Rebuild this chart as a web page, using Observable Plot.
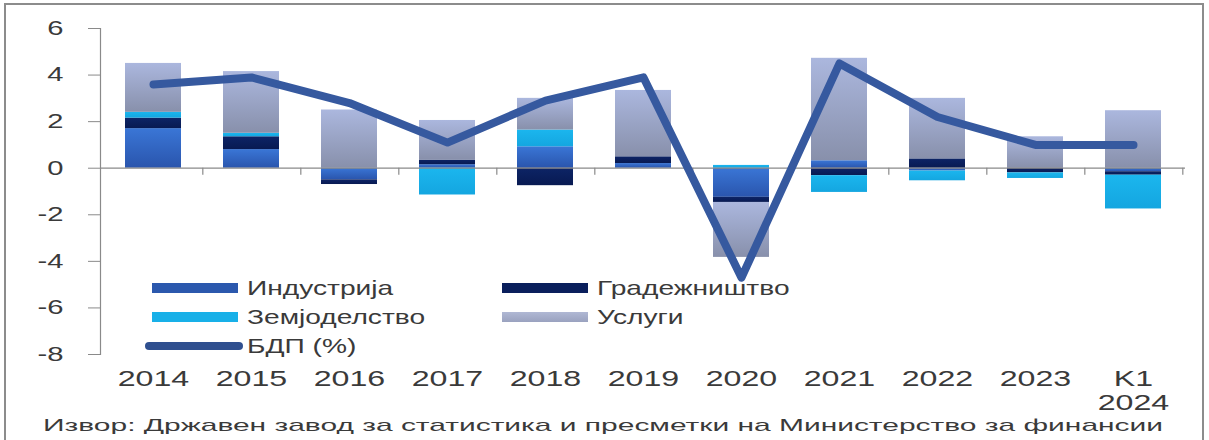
<!DOCTYPE html>
<html><head><meta charset="utf-8">
<script src="https://cdn.jsdelivr.net/npm/d3@7"></script>
<script src="https://cdn.jsdelivr.net/npm/@observablehq/plot@0.6"></script>
<style>
body{margin:0;background:#fff;font-family:"Liberation Sans",Arial,sans-serif;}
#wrap{position:relative;width:1209px;height:440px;overflow:hidden;background:#fff;}
#border{position:absolute;left:4px;top:3px;width:1200px;height:470px;border:2px solid #8c8c8c;box-sizing:border-box;pointer-events:none;}
#chart{position:absolute;left:0;top:0;}
.lg{position:absolute;height:30px;display:flex;align-items:center;white-space:nowrap;}
.sw{width:86px;height:10px;margin-right:9px;flex:none;}
.ln{width:98px;height:8px;border-radius:4px;margin-right:4px;flex:none;}
.lt{display:inline-block;font-size:21px;color:#3a3a3a;transform-origin:left center;}
#cap{position:absolute;left:43px;top:417px;font-size:17px;line-height:17px;color:#3a3a3a;white-space:nowrap;transform-origin:left center;}
</style></head>
<body>
<svg width="0" height="0" style="position:absolute">
  <defs>
    <linearGradient id="gInd" x1="0" y1="0" x2="0" y2="1">
      <stop offset="0" stop-color="#3a76d6"/><stop offset="1" stop-color="#2a55ad"/>
    </linearGradient>
    <linearGradient id="gCon" x1="0" y1="0" x2="0" y2="1">
      <stop offset="0" stop-color="#0d2466"/><stop offset="1" stop-color="#081a52"/>
    </linearGradient>
    <linearGradient id="gAgr" x1="0" y1="0" x2="0" y2="1">
      <stop offset="0" stop-color="#1bb6ee"/><stop offset="1" stop-color="#14a6e0"/>
    </linearGradient>
    <linearGradient id="gSrv" x1="0" y1="0" x2="0" y2="1">
      <stop offset="0" stop-color="#abb7de"/><stop offset="1" stop-color="#8890ab"/>
    </linearGradient>
  </defs>
</svg>
<div id="wrap"><div id="chart"></div><div id="border"></div></div>
<script>
const categories = ["2014","2015","2016","2017","2018","2019","2020","2021","2022","2023","K1 2024"];
const sectors = ["Индустрија","Градежништво","Земјоделство","Услуги"];
const industry     = [1.70, 0.80, -0.50, 0.15, 0.92, 0.20, -1.25, 0.32, -0.12, 0.00, -0.15];
const construction = [0.45, 0.55, -0.20, 0.20, -0.75, 0.29, -0.22, -0.32, 0.40, -0.20, -0.15];
const agriculture  = [0.25, 0.15, 0.00, -1.15, 0.72, 0.00, 0.12, -0.72, -0.42, -0.24, -1.45];
const services     = [2.10, 2.65, 2.50, 1.70, 1.36, 2.85, -2.36, 4.40, 2.60, 1.35, 2.47];
const gdp          = [3.6, 3.9, 2.8, 1.1, 2.9, 3.9, -4.7, 4.5, 2.2, 1.0, 1.0];
const gdpLabel = "БДП (%)";
const yTicks = [-8, -6, -4, -2, 0, 2, 4, 6];
const source = "Извор: Државен завод за статистика и пресметки на Министерство за финансии";

const seriesValues = [industry, construction, agriculture, services];
const rows = categories.flatMap((c, i) => sectors.map((s, k) => ({cat: c, sector: s, value: seriesValues[k][i]})));
const gdpRows = categories.map((c, i) => ({cat: c, value: gdp[i]}));

const W = 1209, H = 410, ML = 100, MR = 24;
const step = (W - ML - MR) / categories.length;
const axisGray = "#8a8a8a";
const fills = ["url(#gInd)","url(#gCon)","url(#gAgr)","url(#gSrv)"];
const gdpColor = "#36599f";

const plot = Plot.plot({
  width: W, height: H, marginLeft: ML, marginRight: MR, marginTop: 28, marginBottom: 56,
  style: {fontFamily: "Liberation Sans, Arial, sans-serif", background: "transparent", color: "#3a3a3a", overflow: "visible"},
  x: {domain: categories, paddingInner: 0.43, paddingOuter: 0.215, label: null},
  y: {domain: [-8, 6], label: null},
  color: {domain: sectors, range: fills},
  marks: [
    Plot.barY(rows, Plot.stackY({x: "cat", y: "value", fill: "sector"})),
    Plot.ruleY([0], {stroke: axisGray, strokeWidth: 1.2}),
    Plot.ruleX(categories, {x: d => d, y1: 0, y2: -0.3, dx: step / 2, stroke: axisGray, strokeWidth: 1.2}),
    Plot.frame({anchor: "left", stroke: axisGray, strokeWidth: 1.2}),
    Plot.axisY({ticks: yTicks, tickSize: 12, tickPadding: 25, fontSize: 20, stroke: axisGray, tickFormat: d => String(d)}),
    Plot.axisX({tickSize: 0, tickPadding: 14, fontSize: 22, lineHeight: 1.11, tickFormat: d => d.replace(" ", "\n")}),
    Plot.lineY(gdpRows, {x: "cat", y: "value", stroke: gdpColor, strokeWidth: 8, strokeLinejoin: "round", strokeLinecap: "round"})
  ]
});
document.getElementById("chart").appendChild(plot);

// horizontal stretch of text, as in the reference picture (positions untouched)
const S = 1.46;
plot.querySelectorAll("text").forEach(t => {
  const tsp = t.querySelectorAll("tspan");
  const targets = tsp.length ? Array.from(tsp) : [t];
  targets.forEach(e => {
    const L = e.getComputedTextLength();
    if (L > 0) {
      e.setAttribute("textLength", (L * S).toFixed(1));
      e.setAttribute("lengthAdjust", "spacingAndGlyphs");
    }
  });
});

// legend
const wrap = document.getElementById("wrap");
const legendItems = [
  {label: sectors[0], fill: "#2b58ad", left: 152, top: 273, type: "sw"},
  {label: sectors[1], fill: "#0a1f5c", left: 502, top: 273, type: "sw"},
  {label: sectors[2], fill: "#18b0e8", left: 152, top: 302, type: "sw"},
  {label: sectors[3], fill: "linear-gradient(#b0b8d4,#9aa2bf)", left: 502, top: 302, type: "sw"},
  {label: gdpLabel, fill: "#2f4f8f", left: 145, top: 331, type: "ln"}
];
legendItems.forEach(it => {
  const d = document.createElement("div");
  d.className = "lg";
  d.style.left = it.left + "px"; d.style.top = it.top + "px";
  const sw = document.createElement("div");
  sw.className = it.type; sw.style.background = it.fill;
  const tx = document.createElement("span");
  tx.className = "lt"; tx.textContent = it.label;
  tx.style.transform = `scaleX(${1.34})`;
  d.appendChild(sw); d.appendChild(tx);
  wrap.appendChild(d);
});

// caption
const cap = document.createElement("div");
cap.id = "cap"; cap.textContent = source;
wrap.appendChild(cap);
const cw = cap.getBoundingClientRect().width;
cap.style.transform = `scaleX(${1120 / cw})`;
</script>
</body></html>
